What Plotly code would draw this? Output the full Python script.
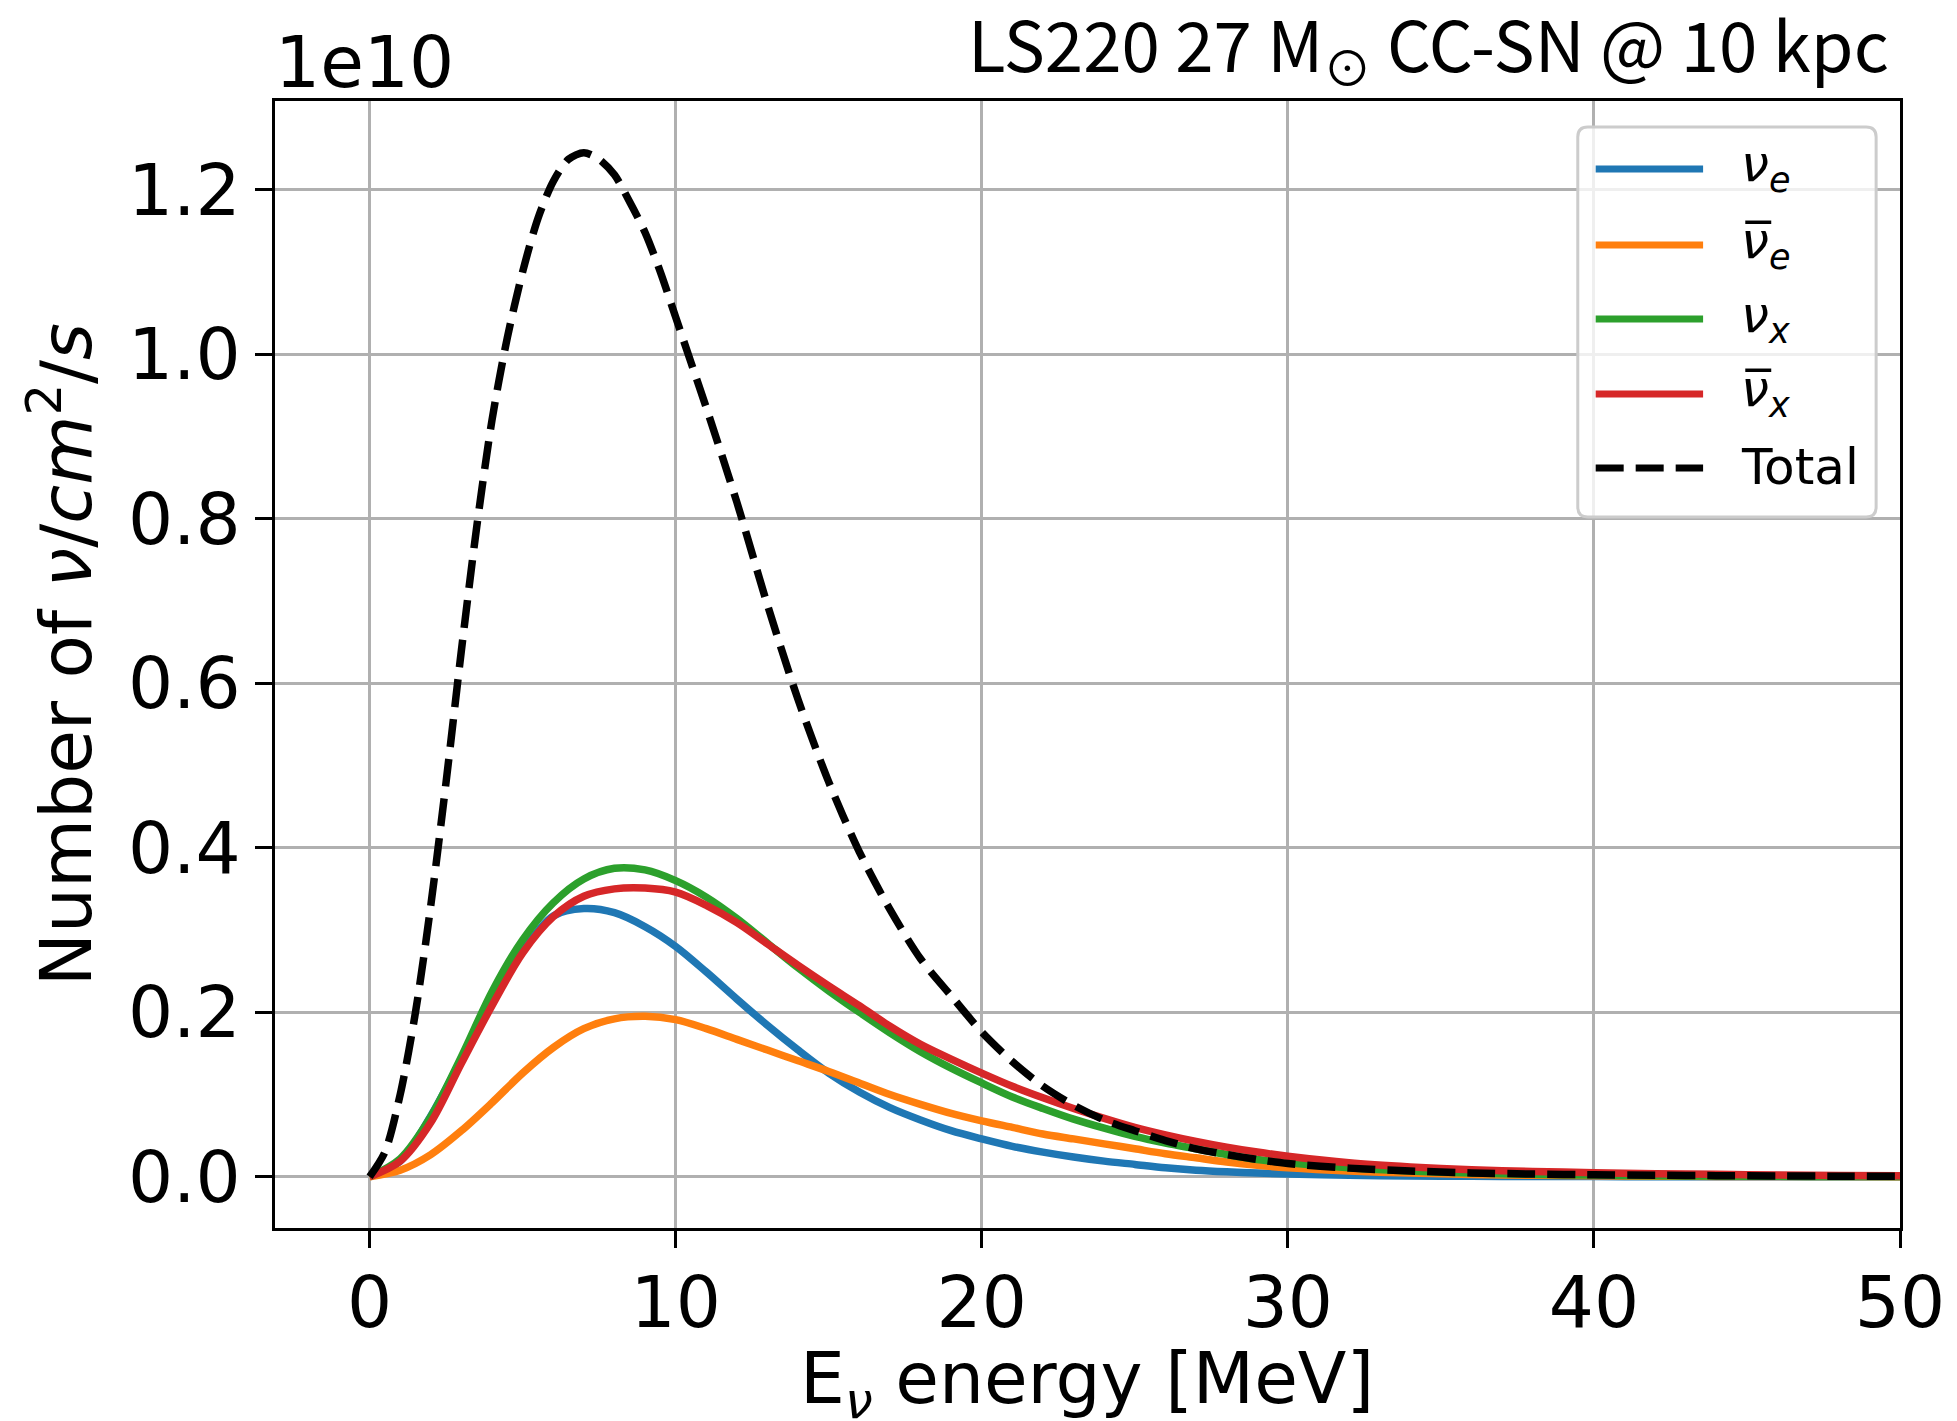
import plotly.graph_objects as go

# ---------------- data (values in units of 1e10 nu/cm^2/s) ----------------
energy_flavor = [0, 1, 2, 3, 4, 5, 6, 7, 8, 9, 10, 11, 12, 13, 14, 15, 16, 17, 18, 19, 20,
                 21, 22, 23, 24, 25, 26, 27, 28, 29, 30, 32, 34, 36, 38, 40, 42, 44, 46, 48, 50]

nu_e = [0, 0.019, 0.074, 0.143, 0.215, 0.274, 0.317, 0.326, 0.321, 0.304, 0.280, 0.249, 0.216,
        0.184, 0.154, 0.126, 0.103, 0.084, 0.069, 0.056, 0.046, 0.037, 0.030, 0.024, 0.019,
        0.015, 0.011, 0.008, 0.006, 0.0045, 0.0033, 0.0018, 0.001, 0.0005, 0.0003, 0.0002,
        0.0001, 0.00005, 0.00003, 0.00001, 0.00001]

nu_e_bar = [0, 0.008, 0.027, 0.056, 0.090, 0.126, 0.157, 0.180, 0.192, 0.195, 0.191, 0.180,
            0.167, 0.154, 0.141, 0.128, 0.114, 0.100, 0.088, 0.077, 0.068, 0.060, 0.052, 0.046,
            0.040, 0.034, 0.028, 0.023, 0.018, 0.014, 0.011, 0.007, 0.0045, 0.0028, 0.0018,
            0.0011, 0.0007, 0.0004, 0.0003, 0.0002, 0.0001]

nu_x = [0, 0.022, 0.073, 0.146, 0.225, 0.288, 0.333, 0.362, 0.375, 0.373, 0.360, 0.340, 0.314,
        0.284, 0.254, 0.226, 0.200, 0.175, 0.152, 0.132, 0.114, 0.097, 0.083, 0.070, 0.059,
        0.049, 0.041, 0.034, 0.027, 0.021, 0.017, 0.011, 0.007, 0.0045, 0.003, 0.002, 0.0013,
        0.0008, 0.0005, 0.0003, 0.0002]

nu_x_bar = [0, 0.019, 0.066, 0.138, 0.208, 0.272, 0.316, 0.341, 0.350, 0.351, 0.346, 0.330,
            0.309, 0.283, 0.257, 0.232, 0.208, 0.183, 0.161, 0.143, 0.126, 0.110, 0.096, 0.083,
            0.071, 0.060, 0.051, 0.043, 0.036, 0.030, 0.025, 0.017, 0.012, 0.0085, 0.0065,
            0.005, 0.0038, 0.003, 0.0022, 0.0016, 0.0012]

energy_total = [0, 0.5, 1, 1.5, 2, 2.5, 3, 3.5, 4, 4.5, 5, 5.5, 6, 6.5, 7, 7.5, 8, 8.5, 9, 9.5,
                10, 10.5, 11, 12, 13, 14, 15, 16, 17, 18, 19, 20, 21, 22, 23, 24, 25, 26, 27,
                28, 29, 30, 32, 34, 36, 38, 40, 42, 44, 46, 48, 50]

total = [0, 0.03, 0.10, 0.20, 0.33, 0.48, 0.64, 0.79, 0.92, 1.02, 1.10, 1.165, 1.21, 1.237,
         1.245, 1.237, 1.218, 1.185, 1.148, 1.10, 1.045, 0.99, 0.935, 0.82, 0.695, 0.58, 0.48,
         0.395, 0.325, 0.265, 0.22, 0.176, 0.14, 0.11, 0.087, 0.069, 0.056, 0.044, 0.034,
         0.027, 0.021, 0.016, 0.0105, 0.007, 0.0047, 0.0033, 0.0025, 0.0018, 0.0013, 0.0009,
         0.0007, 0.0005]

SCALE = 1e10
x_ticks = [0, 10, 20, 30, 40, 50]
y_ticks = [0.0, 0.2, 0.4, 0.6, 0.8, 1.0, 1.2]
y_tick_labels = ["0.0", "0.2", "0.4", "0.6", "0.8", "1.0", "1.2"]

series_names = ["<i>ν</i><sub><i>e</i></sub>", "<i>ν̅</i><sub><i>e</i></sub>",
                "<i>ν</i><sub><i>x</i></sub>", "<i>ν̅</i><sub><i>x</i></sub>", "Total"]
series_colors = ["#1f77b4", "#ff7f0e", "#2ca02c", "#d62728", "black"]

# ---------------- figure ----------------
W, H = 1957, 1421
L, R, T, B = 275, 1909, 101, 1228
FONT = "DejaVu Sans"


def px2x(px):
    return (px - L) / (R - L)


def px2y(py):
    return (B - py) / (B - T)


fig = go.Figure()
flavor_series = [nu_e, nu_e_bar, nu_x, nu_x_bar]
for name, vals, col in zip(series_names[:4], flavor_series, series_colors[:4]):
    fig.add_trace(go.Scatter(
        x=energy_flavor, y=[v * SCALE for v in vals], mode="lines", name=name,
        line=dict(color=col, width=7.5, shape="spline", smoothing=0.9),
        showlegend=False, hoverinfo="skip"))

fig.add_trace(go.Scatter(
    x=energy_total, y=[v * SCALE for v in total], mode="lines", name="Total",
    line=dict(color="black", width=7.5, dash="28px,12px", shape="spline", smoothing=0.8),
    showlegend=False, hoverinfo="skip"))

axis_common = dict(
    showgrid=True, gridcolor="#b0b0b0", gridwidth=2.7,
    showline=True, linecolor="black", linewidth=3, mirror=True,
    ticks="outside", ticklen=17, tickwidth=3, tickcolor="black",
    zeroline=False, tickfont=dict(family=FONT, size=71, color="black"),
    ticklabeloverflow="allow",
)

fig.update_layout(
    width=W, height=H,
    margin=dict(l=L, r=W - R, t=T, b=H - B, pad=0),
    paper_bgcolor="white", plot_bgcolor="white",
    showlegend=False,
    xaxis=dict(range=[-3.09, 50], tickvals=x_ticks, ticklabelstandoff=-6, **axis_common),
    yaxis=dict(range=[-0.0623 * SCALE, 1.3078 * SCALE],
               tickvals=[v * SCALE for v in y_ticks], ticktext=y_tick_labels,
               **axis_common),
)

annotations = [
    dict(text="1e10", x=px2x(273), y=px2y(62), xref="paper", yref="paper",
         xanchor="left", yanchor="middle", showarrow=False,
         font=dict(family=FONT, size=71, color="black")),
    dict(text="LS220 27 M<sub>⊙</sub> CC-SN @ 10 kpc", x=px2x(1900), y=px2y(46),
         xref="paper", yref="paper", xanchor="right", yanchor="middle", showarrow=False,
         font=dict(family="Noto Sans CJK KR", size=69, color="black")),
    dict(text="Number of <i>ν</i>/<i>cm</i><sup>2</sup>/<i>s</i>", x=px2x(60), y=px2y(655),
         xref="paper", yref="paper", xanchor="center", yanchor="middle", textangle=-90,
         showarrow=False, font=dict(family=FONT, size=71, color="black")),
    dict(text="E<sub><i>ν</i></sub> energy [MeV]", x=px2x(1091), y=px2y(1383),
         xref="paper", yref="paper", xanchor="center", yanchor="middle", showarrow=False,
         font=dict(family=FONT, size=71, color="black")),
]

# ---------------- legend (drawn manually to match the sample geometry) ----------------
lx0, lx1, ly0, ly1 = px2x(1585), px2x(1885), px2y(517), px2y(127)
rx, ry = 10 / (R - L), 10 / (B - T)
legend_path = (
    f"M {lx0 + rx},{ly0} L {lx1 - rx},{ly0} Q {lx1},{ly0} {lx1},{ly0 + ry} "
    f"L {lx1},{ly1 - ry} Q {lx1},{ly1} {lx1 - rx},{ly1} L {lx0 + rx},{ly1} "
    f"Q {lx0},{ly1} {lx0},{ly1 - ry} L {lx0},{ly0 + ry} Q {lx0},{ly0} {lx0 + rx},{ly0} Z"
)
shapes = [dict(type="path", path=legend_path, xref="paper", yref="paper",
               fillcolor="rgba(255,255,255,0.8)", line=dict(color="#cccccc", width=3),
               layer="above")]
legend_rows = [169, 245, 319, 394, 468]
for name, col, ypx in zip(series_names, series_colors, legend_rows):
    dash = "28px,12px" if name == "Total" else "solid"
    shapes.append(dict(type="line", xref="paper", yref="paper",
                       x0=px2x(1603), x1=px2x(1711), y0=px2y(ypx), y1=px2y(ypx),
                       line=dict(color=col, width=7, dash=dash), layer="above"))
    annotations.append(dict(text=name, x=px2x(1747), y=px2y(ypx - 1), xref="paper",
                            yref="paper", xanchor="left", yanchor="middle", showarrow=False,
                            font=dict(family=FONT, size=50, color="black")))

fig.update_layout(shapes=shapes, annotations=annotations)
fig.write_html("out.html")
